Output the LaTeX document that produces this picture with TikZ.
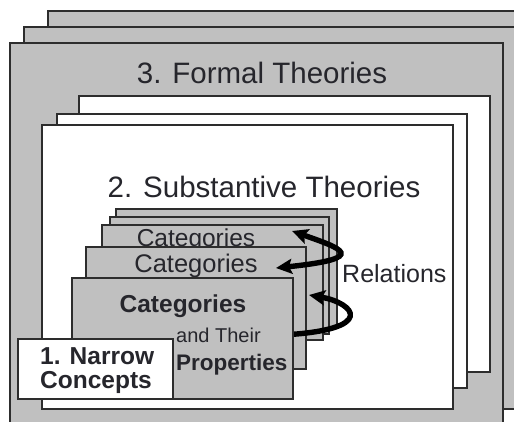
\documentclass[tikz,border=0pt]{standalone}
\usepackage{fontspec}
\setmainfont{Liberation Sans}
\usetikzlibrary{arrows.meta}
\definecolor{panel}{RGB}{192,192,192}
\definecolor{edge}{RGB}{45,45,45}
\definecolor{ink}{RGB}{38,38,44}
\begin{document}
\begin{tikzpicture}[x=1pt,y=-1pt,
  layer/.style={draw=edge,line width=1.4pt,fill=panel},
  sheet/.style={draw=edge,line width=1.4pt,fill=white},
  card/.style={draw=edge,line width=1.2pt,fill=panel},
  lbl/.style={text=ink,inner sep=0pt,anchor=base},
  big/.style={font=\fontsize{29.5}{34}\selectfont},
  mid/.style={font=\fontsize{25}{28}\selectfont},
  relarrow/.style={draw=black,line width=5.4pt},
]
\useasboundingbox (0,0) rectangle (514,421);
\clip (0,0) rectangle (514,421);

% level 3: stacked formal-theory panels
\draw[layer] (48,11) rectangle (530,395);
\draw[layer] (24,27) rectangle (530,409);
\draw[layer] (10,43) rectangle (503,440);
\node[lbl,big] (formal) at (262,83) {3. Formal Theories};

% level 2: stacked substantive-theory sheets
\draw[sheet] (79,96) rectangle (490,372);
\draw[sheet] (57,114) rectangle (467,388);
\draw[sheet] (42,125) rectangle (453,409);
\node[lbl,big] (subst) at (264,197) {2. Substantive Theories};

% category cards, back to front
\draw[card] (116,209) rectangle (337,328);
\draw[card] (110,217) rectangle (329,334);
\draw[card] (102,225) rectangle (323,340);
\node[lbl,font=\fontsize{24.5}{28}\selectfont] (cat3) at (196,246) {Categories};
\draw[card] (86,247) rectangle (306,369);
\node[lbl,font=\fontsize{25.5}{28}\selectfont] (cat4) at (196,272) {Categories};

\node[lbl,mid,anchor=base west] (rel) at (342,282) {Relations};

% relation arrows between the cards
\coordinate (r1a) at (292,231);
\coordinate (r1b) at (276,268);
\coordinate (r2a) at (309,295);
\coordinate (r2b) at (282,335);
\draw[relarrow,arrows={Stealth[length=16pt,width=15pt,inset=3pt]-Stealth[length=16pt,width=15pt,inset=3pt]}]
  (r1a) .. controls (340,248) and (372,258) .. (r1b);
\draw[relarrow,arrows={Stealth[length=16pt,width=15pt,inset=3pt]-}]
  (r2a) .. controls (355,303) and (378,330) .. (r2b);

% front card
\draw[card] (72,278) rectangle (293,399);
\node[lbl,font=\fontsize{24.5}{28}\selectfont\bfseries] (cat5) at (183,312) {Categories};
\node[lbl,font=\fontsize{20}{24}\selectfont,anchor=base west] (their) at (176,342) {and Their};
\node[lbl,font=\fontsize{22.5}{26}\selectfont\bfseries,anchor=base west] (props) at (176,370) {Properties};

% level 1 label box
\draw[sheet] (18,339) rectangle (173,399);
\node[lbl,font=\fontsize{24.5}{24}\selectfont\bfseries,anchor=base west] (narrow1) at (40,364) {1. Narrow};
\node[lbl,font=\fontsize{24.5}{24}\selectfont\bfseries,anchor=base west] (narrow2) at (40,388) {Concepts};
\end{tikzpicture}
\end{document}
